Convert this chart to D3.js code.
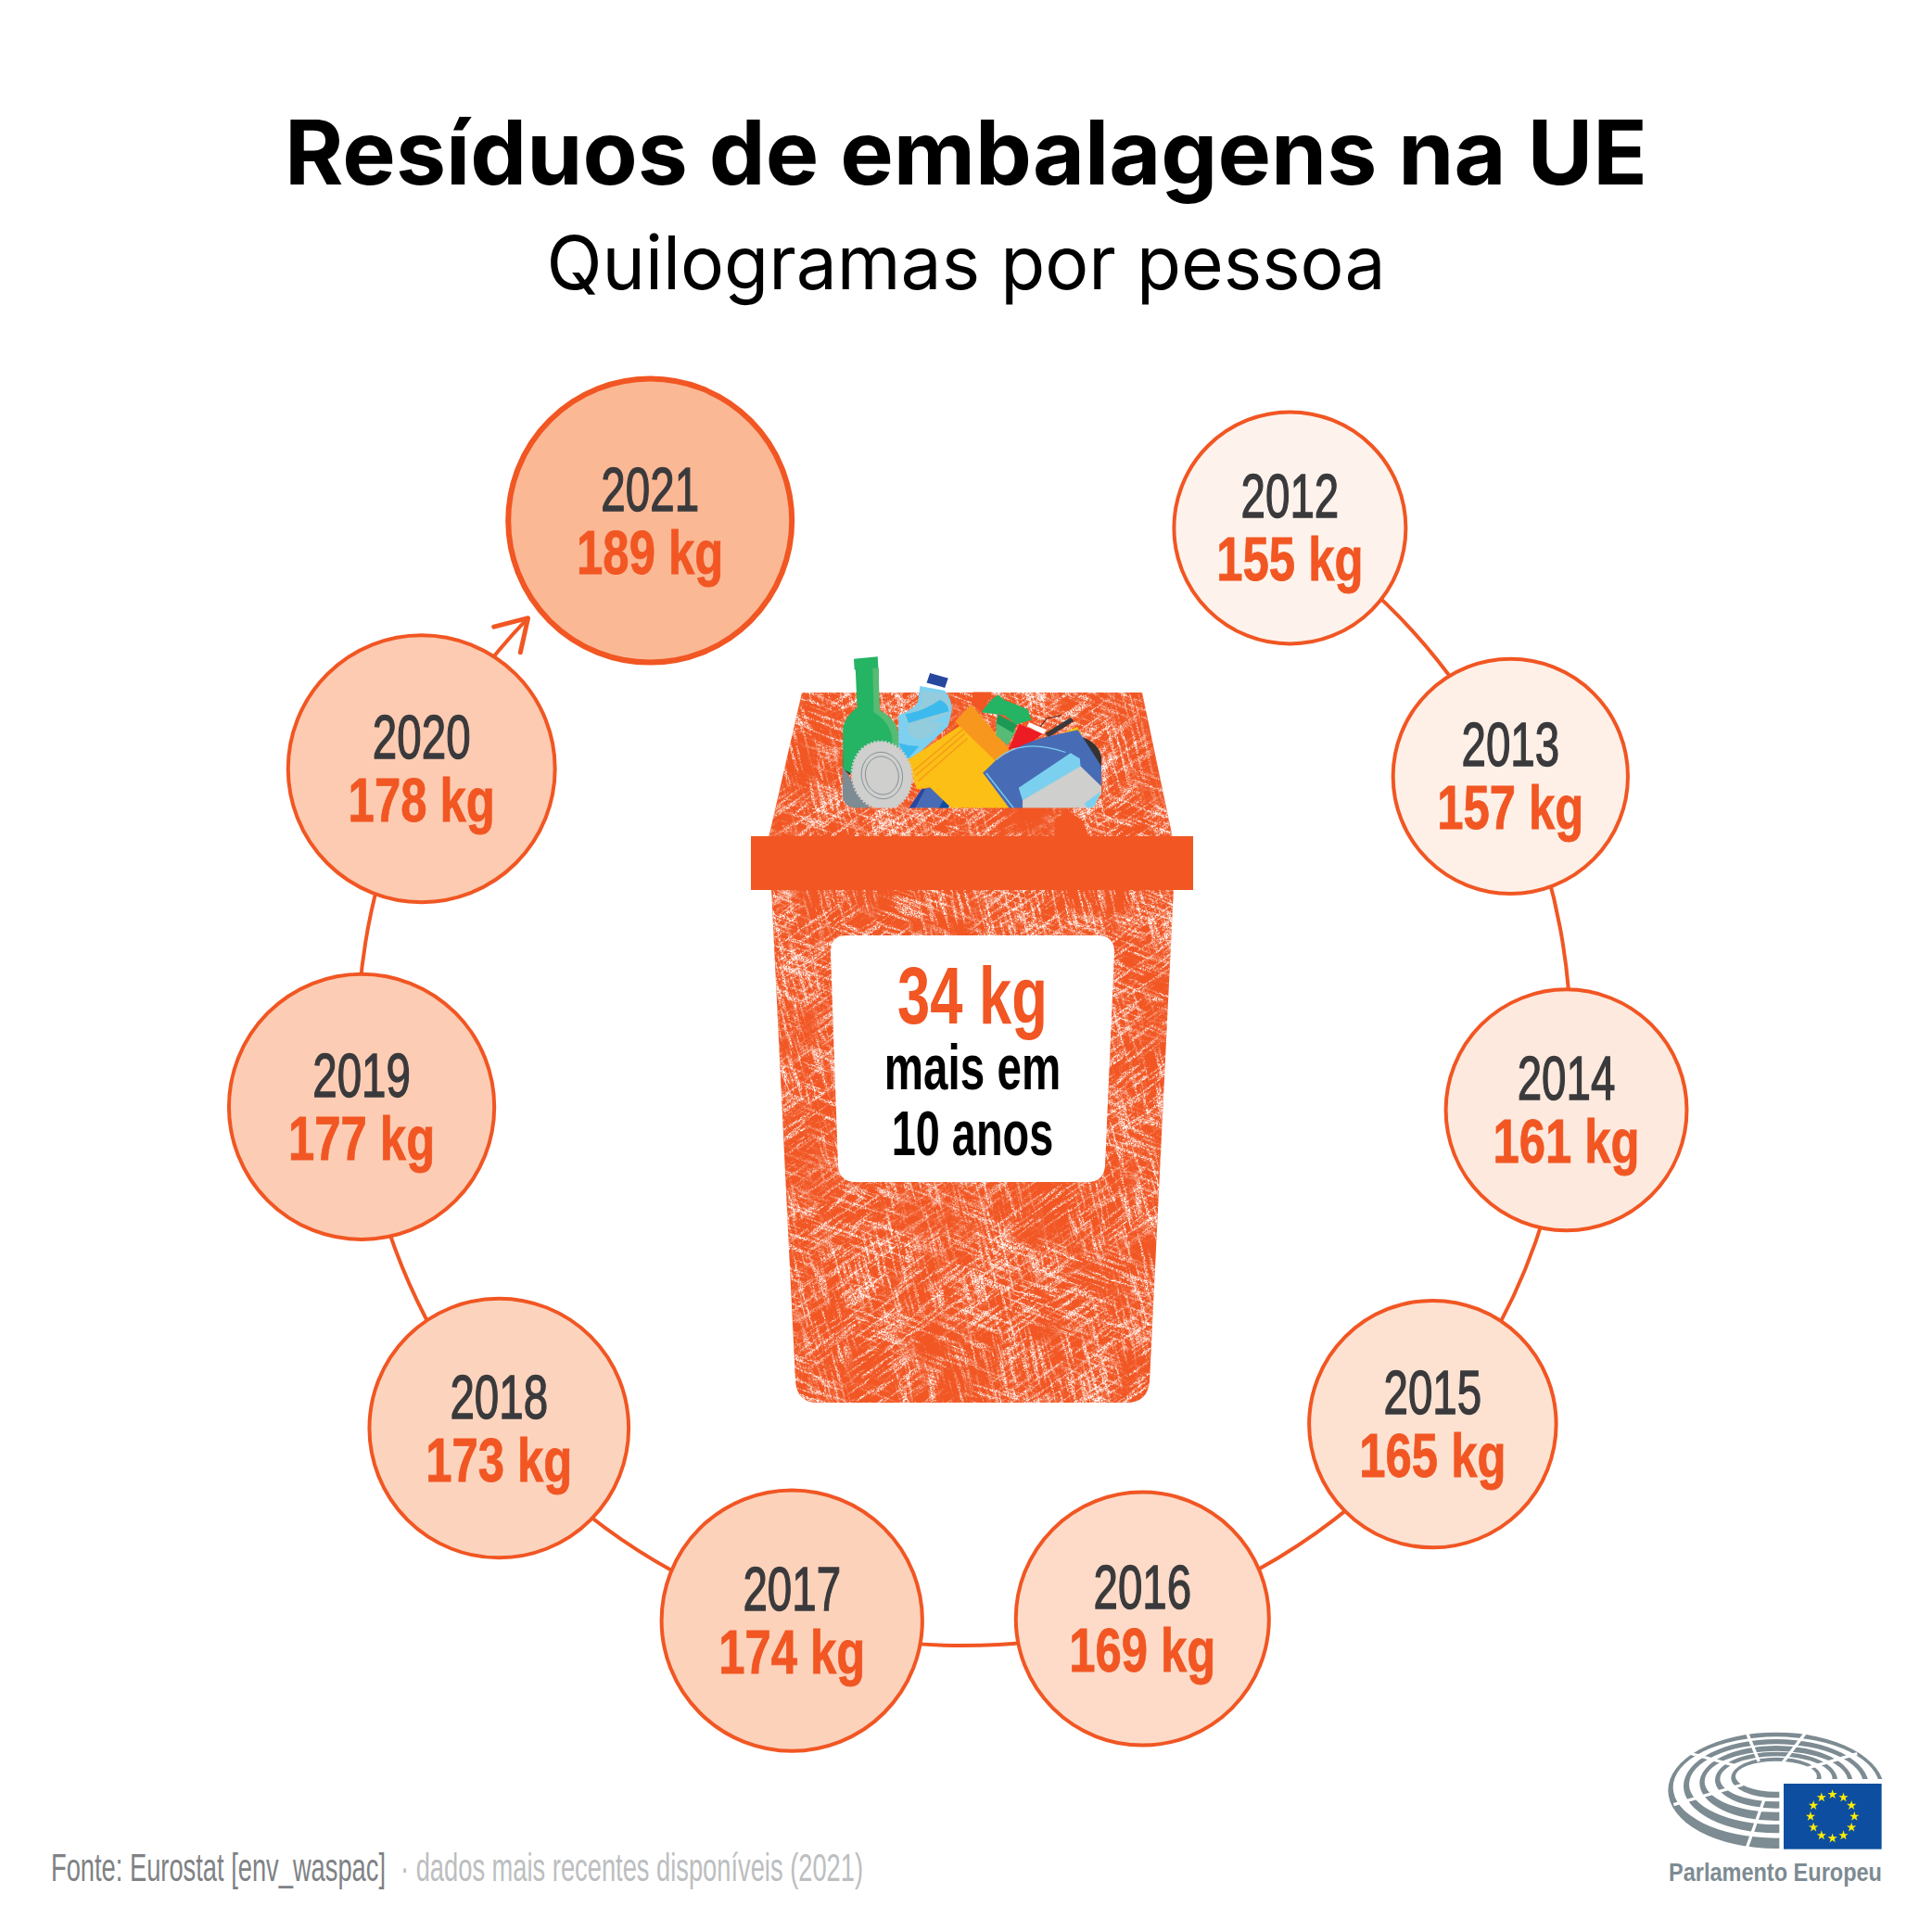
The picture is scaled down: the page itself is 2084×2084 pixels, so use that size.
<!DOCTYPE html>
<html>
<head>
<meta charset="utf-8">
<script src="https://cdn.jsdelivr.net/npm/d3@7"></script>
<style>
    html, body { margin: 0; padding: 0; background: #fff; }
    text { font-family: "Liberation Sans Narrow", "Liberation Sans", sans-serif; }
</style>
</head>
<body>
<svg id="Target" width="2084" height="2084"></svg>
<script>
const years = [2012, 2013, 2014, 2015, 2016, 2017, 2018, 2019, 2020, 2021];
const kilos = [155, 157, 161, 165, 169, 174, 173, 177, 178, 189];
const titleText = "Resíduos de embalagens na UE";
const subtitleText = "Quilogramas por pessoa";
const binLabel = ["34 kg", "mais em", "10 anos"];
const sourceText = "Fonte: Eurostat [env_waspac]";
const noteText = "· dados mais recentes disponíveis (2021)";

const ORANGE = "#f15623";
const DARK = "#3a3a3c";

const svg = d3.select("#Target");
const defs = svg.append("defs");

// scales: ring position, circle size and tint all follow the data
const angleScale = d3.scaleLinear()
    .domain(years)
    .range([32.5, 64.3, 96.7, 129.4, 162.9, 196.5, 230.1, 263.6, 296.5, 328.8]);
const radiusScale = d3.scaleLinear().domain([155, 189]).range([125, 153]);
const fillScale = d3.scaleLinear().domain([155, 189]).range(["#fef3ec", "#fbb895"]);

const ring = { x: 1040, y: 1121, r: 654 };
const polar = (deg, r = ring.r) => {
    const a = (deg - 90) * Math.PI / 180;
    return [ring.x + r * Math.cos(a), ring.y + r * Math.sin(a)];
};

drawTitles();
drawRing();
drawBin();
drawCircles();
drawFooter();
drawLogo();

function drawTitles() {
    svg.append("text")
        .attr("x", 1042).attr("y", 199)
        .attr("text-anchor", "middle")
        .attr("textLength", 1470).attr("lengthAdjust", "spacingAndGlyphs")
        .style("font-family", "Inter")
        .style("font-weight", 700)
        .style("font-size", "96px")
        .attr("fill", "#000")
        .text(titleText);

    svg.append("text")
        .attr("x", 1042).attr("y", 312)
        .attr("text-anchor", "middle")
        .attr("textLength", 905).attr("lengthAdjust", "spacingAndGlyphs")
        .style("font-family", "Inter")
        .style("font-weight", 400)
        .style("font-size", "80px")
        .attr("fill", "#000")
        .text(subtitleText);
}

function drawRing() {
    const arrowEnd = 314;
    const path = d3.path();
    path.arc(ring.x, ring.y, ring.r, (angleScale(2012) - 90) * Math.PI / 180, (arrowEnd - 90) * Math.PI / 180);
    svg.append("path")
        .attr("d", path.toString())
        .attr("fill", "none")
        .attr("stroke", ORANGE)
        .attr("stroke-width", 4);

    // arrow head points along the ring, towards the last year
    const tip = polar(arrowEnd);
    const back = (arrowEnd - 90 - 90) * Math.PI / 180;
    const leg = (off) => [tip[0] + 38 * Math.cos(back + off), tip[1] + 38 * Math.sin(back + off)];
    svg.append("path")
        .attr("d", d3.line()([leg(0.55), tip, leg(-0.55)]))
        .attr("fill", "none")
        .attr("stroke", ORANGE)
        .attr("stroke-width", 5)
        .attr("stroke-linecap", "round")
        .attr("stroke-linejoin", "round");
}

function drawCircles() {
    const node = svg.selectAll("g.year")
        .data(years.map((year, i) => ({ year, kg: kilos[i] })))
        .enter()
        .append("g")
        .attr("class", "year")
        .attr("transform", d => `translate(${polar(angleScale(d.year))})`);

    node.append("circle")
        .attr("r", d => radiusScale(d.kg))
        .attr("fill", d => fillScale(d.kg))
        .attr("stroke", ORANGE)
        .attr("stroke-width", d => d.year === 2021 ? 6 : 4);

    node.append("text")
        .attr("transform", "translate(0,-11) scale(0.72,1)")
        .attr("text-anchor", "middle")
        .attr("fill", DARK)
        .attr("stroke", DARK)
        .attr("stroke-width", 1.4)
        .style("font-size", "66px")
        .text(d => d.year);

    node.append("text")
        .attr("transform", "translate(0,57) scale(0.77,1)")
        .attr("text-anchor", "middle")
        .attr("fill", ORANGE)
        .attr("stroke", ORANGE)
        .attr("stroke-width", 0.8)
        .style("font-size", "66px")
        .style("font-weight", 700)
        .text(d => d.kg + " kg");
}

function drawBin() {
    // shape of the bin, two parts around the lid band
    const topPart = "M865,747 L1232,747 L1265,904 L829,904 Z";
    const bodyPart = "M832,958 L1266,958 L1240,1490 Q1238,1513 1215,1513 L882,1513 Q860,1513 858,1490 Z";

    defs.append("clipPath").attr("id", "binClip")
        .selectAll("path").data([topPart, bodyPart]).enter()
        .append("path").attr("d", d => d);

    const bin = svg.append("g");
    bin.append("path").attr("d", topPart).attr("fill", ORANGE);
    bin.append("path").attr("d", bodyPart).attr("fill", ORANGE);

    // scratched paint: stretched noise broken up by grain, laid at a few directions
    const scratches = [
        { id: "s1", seed: 3, rot: 20 },
        { id: "s2", seed: 8, rot: -35 },
        { id: "s3", seed: 14, rot: 75 }
    ];
    scratches.forEach(s => {
        const f = defs.append("filter").attr("id", s.id)
            .attr("x", 0).attr("y", 0).attr("width", 1).attr("height", 1)
            .attr("color-interpolation-filters", "sRGB");
        const layer = (freq, octaves, seed, slope, cut, name) => {
            f.append("feTurbulence")
                .attr("type", "fractalNoise")
                .attr("baseFrequency", freq)
                .attr("numOctaves", octaves)
                .attr("seed", seed)
                .attr("result", name + "N");
            f.append("feColorMatrix")
                .attr("in", name + "N")
                .attr("type", "matrix")
                .attr("values", `0 0 0 0 1  0 0 0 0 1  0 0 0 0 1  ${slope} 0 0 0 ${cut}`)
                .attr("result", name);
        };
        layer("0.022 0.28", 3, s.seed, 9, -4.8, "streak");
        layer("0.85", 1, s.seed + 1, 10, -4.6, "grain");
        layer("0.012", 2, s.seed + 2, 5, -1.7, "patch");
        f.append("feComposite").attr("in", "streak").attr("in2", "grain").attr("operator", "in").attr("result", "sg");
        f.append("feComposite").attr("in", "sg").attr("in2", "patch").attr("operator", "in");
    });
    const tex = svg.append("g").attr("clip-path", "url(#binClip)");
    scratches.forEach(s => {
        tex.append("rect")
            .attr("x", -600).attr("y", -600)
            .attr("width", 1300).attr("height", 1300)
            .attr("transform", `translate(1048,1130) rotate(${s.rot})`)
            .attr("fill", "#fff")
            .attr("filter", `url(#${s.id})`);
    });

    // lid band and white label
    svg.append("rect").attr("x", 810).attr("y", 902)
        .attr("width", 477).attr("height", 58).attr("fill", ORANGE);
    svg.append("path")
        .attr("d", "M914,1009 L1184,1009 Q1202,1009 1202,1027 L1192,1257 Q1191,1275 1173,1275 L923,1275 Q905,1275 904,1257 L896,1027 Q896,1009 914,1009 Z")
        .attr("fill", "#fff");

    const lines = [
        { t: binLabel[0], y: 1104, size: 88, fill: ORANGE, sx: 0.72 },
        { t: binLabel[1], y: 1175, size: 68, fill: "#000", sx: 0.7 },
        { t: binLabel[2], y: 1246, size: 68, fill: "#000", sx: 0.69 }
    ];
    svg.selectAll("text.binLabel").data(lines).enter()
        .append("text")
        .attr("class", "binLabel")
        .attr("transform", d => `translate(1049,${d.y}) scale(${d.sx},1)`)
        .attr("text-anchor", "middle")
        .attr("fill", d => d.fill)
        .style("font-size", d => d.size + "px")
        .style("font-weight", 700)
        .text(d => d.t);

    drawRubbish();
}

function drawRubbish() {
    // illustration, traced in its own small coordinate system
    const g = svg.append("g").attr("transform", "translate(780,680) scale(0.357,0.333)");
    defs.append("clipPath").attr("id", "rubbishClip")
        .append("path")
        .attr("d", "M360,0 L1143,0 L1143,526 Q1143,576 1093,576 L410,576 Q360,576 360,526 Z");
    const c = g.append("g").attr("clip-path", "url(#rubbishClip)");
    const shape = (d, fill) => c.append("path").attr("d", d).attr("fill", fill);

    g.append("path").attr("d", "M1000,668 L1005,610 L1040,585 L1085,615 L1105,668 Z").attr("fill", ORANGE);

    shape("M755,200 L812,200 L785,270 L750,240 Z", ORANGE);
    shape("M1085,345 Q1135,365 1143,410 L1143,450 L1075,400 Z", "#333");
    shape("M362,400 L385,400 L385,470 L362,450 Z", "#333");

    // green bottle
    shape("M395,92 L467,85 L469,125 L397,128 Z", "#25b364");
    shape("M400,125 L470,122 L472,258 Q525,290 528,330 L532,420 L400,470 L362,450 L362,325 Q362,285 405,250 Z", "#25b364");
    shape("M452,122 L470,122 L472,258 Q525,290 528,330 L532,385 L512,372 Q512,300 455,265 Z", "#56bb74");

    // water bottle
    shape("M625,138 L680,155 L670,186 L615,170 Z", "#27479f");
    shape("M595,180 L670,195 Q695,230 690,265 L680,310 L590,400 L555,420 L530,375 L530,275 Q590,250 590,222 Z", "#7dd0f0");
    shape("M600,195 L670,205 Q690,240 680,270 L620,300 Q590,320 555,300 L545,270 Q600,260 600,225 Z", "#93ccdc");
    shape("M550,270 Q600,265 655,225 Q680,235 682,262 Q620,280 560,300 Z", "#3dbaed");
    shape("M555,310 Q620,290 665,300 L625,345 L590,355 Q555,340 555,310 Z", "#93ccdc");
    shape("M530,365 Q560,375 592,375 L555,420 Z", "#3dbaed");

    // tin and grey shade behind it
    shape("M360,440 L445,576 L360,576 Z", "#7d8b92");
    shape("M562,576 L600,515 L630,508 L688,565 L680,576 Z", "#476cb5");
    shape("M562,576 L600,515 L612,512 L580,576 Z", "#27479f");
    shape("M652,576 L668,545 L682,565 L680,576 Z", "#0d4ea0");

    // yellow box
    shape("M557,420 L722,305 L832,430 L785,460 L865,576 L690,576 L625,508 L585,515 Z", "#fbbf15");
    shape("M700,295 L750,240 L865,385 L825,425 Z", "#f8971d");
    [[575, 455, 725, 320], [582, 470, 730, 335], [590, 488, 738, 350]].forEach(l => {
        c.append("line").attr("x1", l[0]).attr("y1", l[1]).attr("x2", l[2]).attr("y2", l[3])
            .attr("stroke", "#f8971d").attr("stroke-width", 4);
    });

    const tin = c.append("g").attr("transform", "translate(480,470) rotate(-8)");
    tin.append("ellipse").attr("rx", 90).attr("ry", 110).attr("fill", "#cfcfcd")
        .attr("stroke", "#cfcfcd").attr("stroke-width", 8).attr("stroke-dasharray", "6 5");
    [[62, 76], [50, 62]].forEach(e => {
        tin.append("ellipse").attr("rx", e[0]).attr("ry", e[1]).attr("fill", "none")
            .attr("stroke", "#7d8b92").attr("stroke-width", 2.5);
    });

    // spray bottle
    shape("M825,300 L885,325 L860,372 L825,340 Z", "#56bb74");
    shape("M830,272 L888,305 L876,332 L825,300 Z", "#1c9a55");
    shape("M810,225 L830,208 L850,225 L920,255 L932,290 L885,305 L850,275 L780,265 Z", "#25b364");
    shape("M895,303 L965,335 L920,372 L862,386 Z", "#ed1c24");
    shape("M925,298 L978,322 L968,336 L918,310 Z", "#fff");
    c.append("path").attr("d", "M958,312 L978,285 L1022,275").attr("fill", "none")
        .attr("stroke", "#5a2a2a").attr("stroke-width", 3);
    c.append("line").attr("x1", 978).attr("y1", 340).attr("x2", 1055).attr("y2", 288)
        .attr("stroke", "#3a3a3c").attr("stroke-width", 16);
    shape("M1030,330 L1070,312 L1085,340 Z", "#fbbf15");

    // blue package
    shape("M785,462 L825,420 Q900,365 975,345 L1072,322 L1143,440 L1143,510 L1040,420 L905,510 L905,576 L865,576 Z", "#476cb5");
    shape("M893,510 L1050,397 L1078,415 L1080,442 L905,552 Z", "#7bd0f0");
    shape("M905,576 L905,550 L1080,440 L1143,505 L1143,530 L1110,576 Z", "#cfcfcd");
    shape("M1092,560 L1143,520 L1120,576 L1100,576 Z", "#7bd0f0");
    c.append("line").attr("x1", 795).attr("y1", 462).attr("x2", 878).attr("y2", 576)
        .attr("stroke", "#7bd0f0").attr("stroke-width", 4);
    c.append("path").attr("d", "M825,420 Q900,345 1035,395").attr("fill", "none")
        .attr("stroke", "#7bd0f0").attr("stroke-width", 3);
}

function drawFooter() {
    svg.append("text")
        .attr("transform", "translate(55,2029) scale(0.65,1)")
        .attr("fill", "#808285")
        .style("font-size", "42px")
        .text(sourceText);
    svg.append("text")
        .attr("transform", "translate(432,2029) scale(0.65,1)")
        .attr("fill", "#bcbec0")
        .style("font-size", "42px")
        .text(noteText);
}

function drawLogo() {
    const GREY = "#7d8b92";
    const g = svg.append("g").attr("transform", "translate(1760,1840) scale(0.3333)");

    // rings of seats: ellipse, outer then inner edge given as left, top, bottom
    const seatRows = [
        { cx: 468, outer: [118, 86, 462], inner: [134, 100, 428] },
        { cx: 468, outer: [168, 108, 412], inner: [186, 124, 384] },
        { cx: 468, outer: [220, 129, 372], inner: [236, 146, 344] },
        { cx: 468, outer: [270, 149, 332], inner: [286, 163, 310] },
        { cx: 468, outer: [322, 167, 298], inner: [336, 179, 278] }
    ];
    const ellipse = (cx, [left, top, bottom]) => {
        const rx = cx - left, ry = (bottom - top) / 2, cy = (top + bottom) / 2;
        return `M${cx - rx},${cy} A${rx},${ry} 0 1 1 ${cx + rx},${cy} A${rx},${ry} 0 1 1 ${cx - rx},${cy} Z`;
    };
    g.selectAll("path.row").data(seatRows).enter()
        .append("path")
        .attr("class", "row")
        .attr("d", d => ellipse(d.cx, d.outer) + ellipse(d.cx, d.inner))
        .attr("fill-rule", "evenodd")
        .attr("fill", GREY);

    const gaps = [
        [[430, 300], [372, 462]],
        [[360, 255], [136, 320]],
        [[340, 195], [175, 150]],
        [[412, 180], [370, 80]],
        [[488, 185], [565, 85]],
        [[540, 210], [730, 155]]
    ];
    g.selectAll("line.gap").data(gaps).enter()
        .append("line")
        .attr("x1", d => d[0][0]).attr("y1", d => d[0][1])
        .attr("x2", d => d[1][0]).attr("y2", d => d[1][1])
        .attr("stroke", "#fff").attr("stroke-width", 10);

    g.append("rect").attr("x", 478).attr("y", 237).attr("width", 360).attr("height", 240).attr("fill", "#fff");
    g.append("rect").attr("x", 492).attr("y", 252).attr("width", 317).attr("height", 212).attr("fill", "#0d4ea0");

    const stars = d3.range(12).map(i => i * 30);
    g.selectAll("path.star").data(stars).enter()
        .append("path")
        .attr("class", "star")
        .attr("d", d3.symbol(d3.symbolStar, 300))
        .attr("fill", "#ffed00")
        .attr("transform", d => {
            const a = d * Math.PI / 180;
            return `translate(${650 + 71 * Math.cos(a)},${358 + 71 * Math.sin(a)})`;
        });

    g.append("text")
        .attr("x", 120).attr("y", 568)
        .attr("textLength", 690).attr("lengthAdjust", "spacingAndGlyphs")
        .attr("fill", GREY)
        .style("font-size", "84px")
        .style("font-weight", 700)
        .text("Parlamento Europeu");
}
</script>
</body>
</html>
